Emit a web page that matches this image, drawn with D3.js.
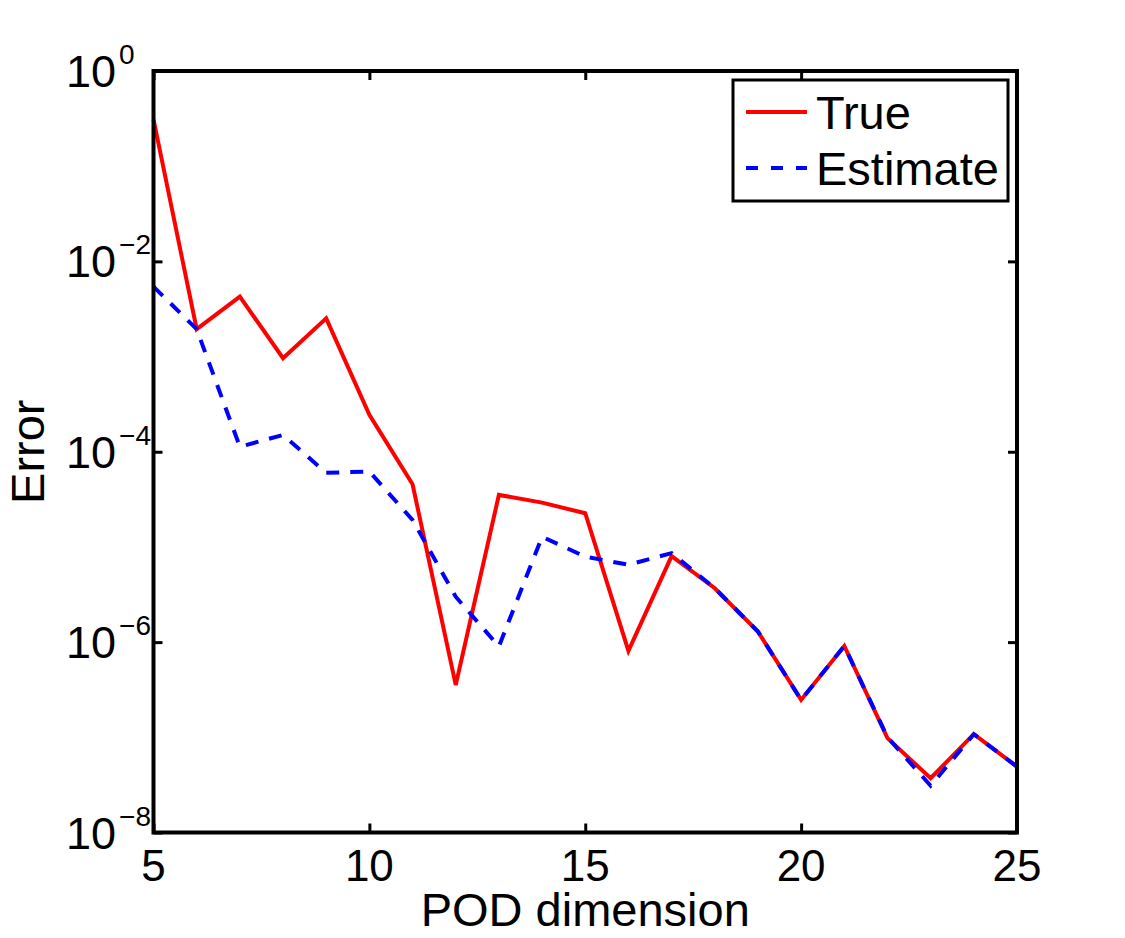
<!DOCTYPE html>
<html>
<head>
<meta charset="utf-8">
<script src="https://cdn.jsdelivr.net/npm/d3@7"></script>
<style>
    body { margin: 0; background: #fff; }
    text { font-family: "Liberation Sans", Arial, Helvetica, sans-serif; fill: #000; }
</style>
</head>
<body>
<script>
//data
var podDims = [5, 6, 7, 8, 9, 10, 11, 12, 13, 14, 15, 16, 17, 18, 19, 20, 21, 22, 23, 24, 25];
var trueErr = [0.31, 1.94e-3, 4.26e-3, 9.6e-4, 2.52e-3, 2.44e-4, 4.55e-5, 3.55e-7, 3.52e-5, 2.92e-5, 2.26e-5,
    8.1e-7, 8.0e-6, 3.68e-6, 1.29e-6, 2.47e-7, 9.1e-7, 9.8e-8, 3.72e-8, 1.08e-7, 4.92e-8];
var estErr = [5.42e-3, 1.94e-3, 1.13e-4, 1.5e-4, 6.0e-5, 6.2e-5, 1.92e-5, 3.0e-6, 9.0e-7, 1.28e-5, 7.9e-6,
    6.5e-6, 8.6e-6, 3.68e-6, 1.29e-6, 2.47e-7, 9.1e-7, 1.0e-7, 3.1e-8, 1.08e-7, 4.92e-8];
var xTicks = [5, 10, 15, 20, 25];
var yExps = [0, -2, -4, -6, -8];
var seriesNames = ["True", "Estimate"];

window.onload = drawChart();

function drawChart(){
    var width = 1125,
        height = 938;
    var left = 153.5, right = 1017, top = 71, bottom = 832.5;

    var svg = d3.select("body")
        .append("svg")
        .attr("width", width)
        .attr("height", height);

    var x = d3.scaleLinear()
        .domain([5, 25])
        .range([left, right]);

    var y = d3.scaleLog()
        .domain([1e-8, 1])
        .range([bottom, top]);

    var yTickVals = yExps.map(function(e){ return Math.pow(10, e); });

    //inward ticks on all four sides
    svg.append("g")
        .attr("transform", "translate(0," + bottom + ")")
        .call(d3.axisBottom(x).tickValues(xTicks).tickSize(-9).tickFormat(""));
    svg.append("g")
        .attr("transform", "translate(0," + top + ")")
        .call(d3.axisTop(x).tickValues(xTicks).tickSize(-9).tickFormat(""));
    svg.append("g")
        .attr("transform", "translate(" + left + ",0)")
        .call(d3.axisLeft(y).tickValues(yTickVals).tickSize(-9).tickFormat(""));
    svg.append("g")
        .attr("transform", "translate(" + right + ",0)")
        .call(d3.axisRight(y).tickValues(yTickVals).tickSize(-9).tickFormat(""));

    svg.selectAll(".domain").remove();
    svg.selectAll(".tick line")
        .style("stroke", "#000")
        .style("stroke-width", 3);

    //lines
    var line = d3.line()
        .x(function(d){ return x(d[0]); })
        .y(function(d){ return y(d[1]); });

    svg.append("path")
        .datum(d3.zip(podDims, trueErr))
        .attr("d", line)
        .style("fill", "none")
        .style("stroke", "#ff0000")
        .style("stroke-width", 4)
        .style("stroke-linejoin", "miter");

    svg.append("path")
        .datum(d3.zip(podDims, estErr))
        .attr("d", line)
        .style("fill", "none")
        .style("stroke", "#0000ff")
        .style("stroke-width", 4)
        .style("stroke-dasharray", "13,11");

    //plot box
    svg.append("rect")
        .attr("x", left)
        .attr("y", top)
        .attr("width", right - left)
        .attr("height", bottom - top)
        .style("fill", "none")
        .style("stroke", "#000")
        .style("stroke-width", 4);

    //x tick labels
    svg.selectAll(".xlab")
        .data(xTicks)
        .enter()
        .append("text")
        .attr("x", function(d){ return x(d); })
        .attr("y", 881)
        .attr("text-anchor", "middle")
        .style("font-size", "44px")
        .text(function(d){ return d; });

    //y tick labels as 10^n
    var ylab = svg.selectAll(".ylab")
        .data(yExps)
        .enter()
        .append("text")
        .attr("y", function(d){ return y(Math.pow(10, d)) + 16; })
        .style("font-size", "45px");
    ylab.append("tspan")
        .attr("x", 66)
        .text("10");
    ylab.append("tspan")
        .attr("dx", 3)
        .attr("dy", -23)
        .style("font-size", "28px")
        .text(function(d){ return d === 0 ? "0" : "\u2212" + Math.abs(d); });

    //axis titles
    svg.append("text")
        .attr("x", (left + right) / 2)
        .attr("y", 926)
        .attr("text-anchor", "middle")
        .style("font-size", "47px")
        .text("POD dimension");

    svg.append("text")
        .attr("transform", "translate(44," + ((top + bottom) / 2) + ") rotate(-90)")
        .attr("text-anchor", "middle")
        .style("font-size", "47px")
        .text("Error");

    //legend
    var legend = svg.append("g");
    legend.append("rect")
        .attr("x", 733)
        .attr("y", 80)
        .attr("width", 275)
        .attr("height", 121)
        .style("fill", "#fff")
        .style("stroke", "#000")
        .style("stroke-width", 3);

    var legY = [112, 168];
    var legColors = ["#ff0000", "#0000ff"];
    var legDash = [null, "12,13"];
    seriesNames.forEach(function(name, i){
        legend.append("line")
            .attr("x1", 746)
            .attr("x2", 807)
            .attr("y1", legY[i])
            .attr("y2", legY[i])
            .style("stroke", legColors[i])
            .style("stroke-width", 4)
            .style("stroke-dasharray", legDash[i]);
        legend.append("text")
            .attr("x", 816)
            .attr("y", legY[i] + 17)
            .style("font-size", "47px")
            .text(name);
    });
}
</script>
</body>
</html>
